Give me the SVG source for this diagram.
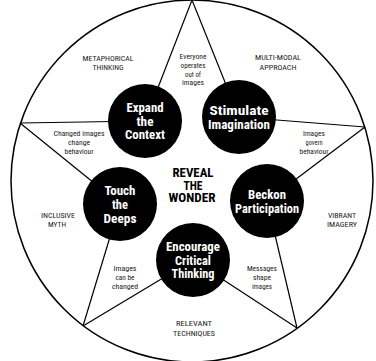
<svg xmlns="http://www.w3.org/2000/svg" width="376" height="361" viewBox="0 0 376 361">
<style>
.ring{fill:#fff;stroke:#000;stroke-width:1.5}
.con line{stroke:#000;stroke-width:1.2}
.node circle{fill:#000}
.nt{font-family:"Liberation Sans Narrow","Roboto Condensed","Liberation Sans",Arial,sans-serif;font-weight:bold;font-size:13px;fill:#fff;text-anchor:middle}
.ct{font-family:"Liberation Sans Narrow","Roboto Condensed","Liberation Sans",Arial,sans-serif;font-weight:bold;font-size:12px;fill:#000;text-anchor:middle}
.sm{font-family:"Liberation Sans Narrow","Roboto Condensed","Liberation Sans",Arial,sans-serif;font-size:7.6px;fill:#222;text-anchor:middle}
</style>
<rect width="376" height="361" fill="#fff"/>
<circle class="ring" cx="192" cy="181" r="181"/>
<g id="connectors" class="con">
<line x1="192" y1="0" x2="145" y2="121"/>
<line x1="192" y1="0" x2="239" y2="117"/>
<line x1="20" y1="123" x2="145" y2="121"/>
<line x1="20" y1="123" x2="120" y2="204"/>
<line x1="365" y1="127" x2="239" y2="117"/>
<line x1="365" y1="127" x2="267" y2="201"/>
<line x1="83" y1="326" x2="120" y2="204"/>
<line x1="83" y1="326" x2="193" y2="260"/>
<line x1="297" y1="328" x2="193" y2="260"/>
<line x1="297" y1="328" x2="267" y2="201"/>
</g>
<g id="labels">
<text class="sm"><tspan x="108" y="61" textLength="51" lengthAdjust="spacingAndGlyphs">METAPHORICAL</tspan><tspan x="108" y="70" textLength="31" lengthAdjust="spacingAndGlyphs">THINKING</tspan></text>
<text class="sm"><tspan x="193" y="59" textLength="27" lengthAdjust="spacingAndGlyphs">Everyone</tspan><tspan x="193" y="68" textLength="25" lengthAdjust="spacingAndGlyphs">operates</tspan><tspan x="193" y="76.5" textLength="16" lengthAdjust="spacingAndGlyphs">out of</tspan><tspan x="193" y="85" textLength="22" lengthAdjust="spacingAndGlyphs">images</tspan></text>
<text class="sm"><tspan x="278" y="60" textLength="46" lengthAdjust="spacingAndGlyphs">MULTI-MODAL</tspan><tspan x="278" y="70" textLength="37" lengthAdjust="spacingAndGlyphs">APPROACH</tspan></text>
<text class="sm"><tspan x="314" y="136" textLength="22" lengthAdjust="spacingAndGlyphs">Images</tspan><tspan x="314" y="145" textLength="17" lengthAdjust="spacingAndGlyphs">govern</tspan><tspan x="314" y="154" textLength="29" lengthAdjust="spacingAndGlyphs">behaviour</tspan></text>
<text class="sm"><tspan x="79" y="136" textLength="51" lengthAdjust="spacingAndGlyphs">Changed images</tspan><tspan x="79" y="145" textLength="22" lengthAdjust="spacingAndGlyphs">change</tspan><tspan x="79" y="154" textLength="29" lengthAdjust="spacingAndGlyphs">behaviour</tspan></text>
<text class="sm"><tspan x="58" y="218" textLength="34" lengthAdjust="spacingAndGlyphs">INCLUSIVE</tspan><tspan x="57" y="227" textLength="18" lengthAdjust="spacingAndGlyphs">MYTH</tspan></text>
<text class="sm"><tspan x="125" y="271" textLength="23" lengthAdjust="spacingAndGlyphs">Images</tspan><tspan x="125" y="280" textLength="19" lengthAdjust="spacingAndGlyphs">can be</tspan><tspan x="125" y="289" textLength="26" lengthAdjust="spacingAndGlyphs">changed</tspan></text>
<text class="sm"><tspan x="262" y="271" textLength="30" lengthAdjust="spacingAndGlyphs">Messages</tspan><tspan x="262" y="280" textLength="18" lengthAdjust="spacingAndGlyphs">shape</tspan><tspan x="262" y="289" textLength="20" lengthAdjust="spacingAndGlyphs">images</tspan></text>
<text class="sm"><tspan x="342" y="218" textLength="28" lengthAdjust="spacingAndGlyphs">VIBRANT</tspan><tspan x="342" y="227" textLength="30" lengthAdjust="spacingAndGlyphs">IMAGERY</tspan></text>
<text class="sm"><tspan x="194" y="326" textLength="36" lengthAdjust="spacingAndGlyphs">RELEVANT</tspan><tspan x="194" y="336" textLength="42" lengthAdjust="spacingAndGlyphs">TECHNIQUES</tspan></text>
<text class="ct"><tspan x="193" y="177" textLength="41" lengthAdjust="spacingAndGlyphs">REVEAL</tspan><tspan x="193" y="189.5" textLength="19" lengthAdjust="spacingAndGlyphs">THE</tspan><tspan x="192" y="202" textLength="47" lengthAdjust="spacingAndGlyphs">WONDER</tspan></text>
</g>
<g id="node-expand" class="node">
<circle cx="145" cy="121" r="37"/>
<text class="nt"><tspan x="145" y="112" textLength="37" lengthAdjust="spacingAndGlyphs">Expand</tspan><tspan x="145" y="125.5" textLength="17" lengthAdjust="spacingAndGlyphs">the</tspan><tspan x="145" y="139" textLength="40" lengthAdjust="spacingAndGlyphs">Context</tspan></text>
</g>
<g id="node-stimulate" class="node">
<circle cx="239" cy="117" r="37"/>
<text class="nt"><tspan x="239" y="115" textLength="59" lengthAdjust="spacingAndGlyphs">Stimulate</tspan><tspan x="239" y="129" textLength="62" lengthAdjust="spacingAndGlyphs">Imagination</tspan></text>
</g>
<g id="node-touch" class="node">
<circle cx="120" cy="204" r="37"/>
<text class="nt"><tspan x="120" y="195" textLength="31" lengthAdjust="spacingAndGlyphs">Touch</tspan><tspan x="120" y="209" textLength="16" lengthAdjust="spacingAndGlyphs">the</tspan><tspan x="120" y="223" textLength="33" lengthAdjust="spacingAndGlyphs">Deeps</tspan></text>
</g>
<g id="node-beckon" class="node">
<circle cx="267" cy="201" r="37"/>
<text class="nt"><tspan x="267" y="199" textLength="38" lengthAdjust="spacingAndGlyphs">Beckon</tspan><tspan x="267" y="213" textLength="64" lengthAdjust="spacingAndGlyphs">Participation</tspan></text>
</g>
<g id="node-encourage" class="node">
<circle cx="193" cy="260" r="37"/>
<text class="nt" style="font-size:12.5px"><tspan x="193" y="251" textLength="54" lengthAdjust="spacingAndGlyphs">Encourage</tspan><tspan x="193" y="264.5" textLength="36" lengthAdjust="spacingAndGlyphs">Critical</tspan><tspan x="193" y="278" textLength="43" lengthAdjust="spacingAndGlyphs">Thinking</tspan></text>
</g>
</svg>
